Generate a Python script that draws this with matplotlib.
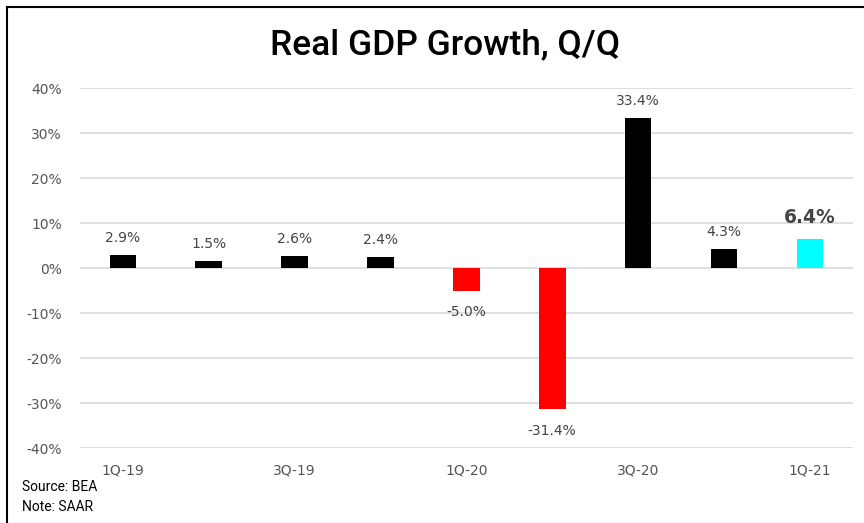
import matplotlib
matplotlib.use("Agg")
import matplotlib.pyplot as plt
from matplotlib.patches import Rectangle
import numpy as np

plt.rcParams["font.family"] = ["DejaVu Sans"]

# ── data ──────────────────────────────────────────────────────────────
quarters = ["1Q-19", "2Q-19", "3Q-19", "4Q-19", "1Q-20",
            "2Q-20", "3Q-20", "4Q-20", "1Q-21"]
growth = [2.9, 1.5, 2.6, 2.4, -5.0, -31.4, 33.4, 4.3, 6.4]
yticks = [-40, -30, -20, -10, 0, 10, 20, 30, 40]

BODY = ["DejaVu Sans"]
HEAD = ["Roboto", "DejaVu Sans"]

# ── figure ────────────────────────────────────────────────────────────
fig = plt.figure(figsize=(8.64, 5.23), dpi=100, facecolor="white")
ax = fig.add_axes([0.0926, 0.1434, 0.8944, 0.6883])

x = np.arange(len(quarters))
colors = []
for i, v in enumerate(growth):
    if i == len(growth) - 1:
        colors.append("#00ffff")
    elif v < 0:
        colors.append("#ff0000")
    else:
        colors.append("black")

ax.bar(x, growth, width=0.31, color=colors, zorder=3)

ax.set_xlim(-0.5, len(quarters) - 0.5)
ax.set_ylim(-40, 40)
ax.set_yticks(yticks)
ax.set_yticklabels([f"{t}%" for t in yticks], family=BODY)
ax.yaxis.grid(True, color="#d9d9d9", linewidth=1.2, zorder=0)
ax.set_xticks(x[::2])
ax.set_xticklabels(quarters[::2], family=BODY)
ax.tick_params(length=0, labelsize=10, labelcolor="#555555")
ax.tick_params(axis="y", pad=13)
ax.tick_params(axis="x", pad=11)
for s in ax.spines.values():
    s.set_visible(False)

# bar labels
for i, v in enumerate(growth):
    last = i == len(growth) - 1
    off = 2.2 if v >= 0 else -3.2
    ax.text(i, v + off + (0.6 if last else 0), f"{v:.1f}%",
            ha="center", va="bottom" if v >= 0 else "top",
            fontsize=13.5 if last else 10,
            fontweight="bold" if last else "normal",
            family=BODY, color="#444444")

# title and notes
fig.text(0.515, 0.915, "Real GDP Growth, Q/Q", ha="center", va="center",
         fontsize=25.5, fontweight="medium", family=HEAD, color="black")
fig.text(0.026, 0.068, "Source: BEA", ha="left", va="center",
         fontsize=10, family=HEAD)
fig.text(0.026, 0.030, "Note: SAAR", ha="left", va="center",
         fontsize=10, family=HEAD)

# frame (only left/top edges visible in the crop)
fig.patches.append(Rectangle((0.0081, -0.1), 1.2, 1.0866, fill=False,
                             edgecolor="black", linewidth=1.5,
                             transform=fig.transFigure, figure=fig))

fig.savefig("out.png", dpi=100, facecolor="white")
